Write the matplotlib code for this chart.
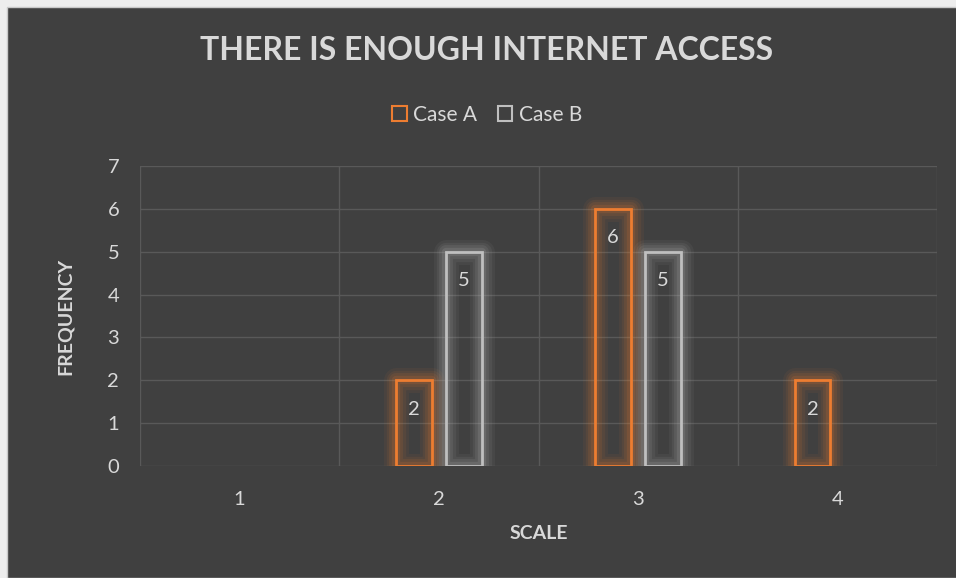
import matplotlib
matplotlib.use('Agg')
import matplotlib.pyplot as plt
import matplotlib.patches as patches
import numpy as np

# Survey answers on the 1-4 scale
scale = ['1', '2', '3', '4']
caseA = [0, 2, 6, 2]
caseB = [0, 5, 5, 0]
series = ['Case A', 'Case B']

colA = '#ED7D31'
colB = '#BFBFBF'
bg = '#404040'
txt = '#D9D9D9'
grid = '#595959'

plt.rcParams['font.family'] = ['Lato', 'DejaVu Sans']

fig = plt.figure(figsize=(9.56, 5.78), dpi=100)
fig.patch.set_facecolor('#EDEDED')
# dark chart area with thin light border on the top/left
frame = patches.Rectangle((7/956, 0), 1, 1 - 7/578, transform=fig.transFigure,
                          facecolor=bg, edgecolor='#C8C8C8', linewidth=1, zorder=-10)
fig.add_artist(frame)

ax = fig.add_axes([140/956, 112/578, 797/956, 300/578])
ax.set_facecolor('none')
ax.set_zorder(1)

x = np.arange(len(scale))
w = 0.18
off = 0.125


def glow_bars(xpos, vals, color):
    for xi, v in zip(xpos, vals):
        if v == 0:
            continue
        # soft halo around the outline
        for lw, a in [(18, 0.06), (14, 0.08), (10, 0.10), (6, 0.14)]:
            ax.add_patch(patches.Rectangle((xi - w/2, 0), w, v, fill=False, edgecolor=color,
                                           linewidth=lw, alpha=a, zorder=2, joinstyle='round'))
        ax.add_patch(patches.Rectangle((xi - w/2, 0), w, v, fill=False, edgecolor=color,
                                       linewidth=2, zorder=3))
        ax.annotate(str(v), xy=(xi, v), xytext=(0, -29), textcoords='offset pixels',
                    ha='center', va='center', fontsize=14.5, color=txt, zorder=4)


glow_bars(x - off, caseA, colA)
glow_bars(x + off, caseB, colB)

ax.set_xlim(-0.5, 3.5)
ax.set_ylim(0, 7)
ax.set_yticks(range(8))
ax.set_xticks(x)
ax.set_xticklabels(scale)
ax.set_xticks(np.arange(-0.5, 4, 1), minor=True)
ax.grid(True, which='minor', axis='x', color=grid, linewidth=1, zorder=1)
ax.grid(True, which='major', axis='y', color=grid, linewidth=1, zorder=1)
ax.set_axisbelow(True)
ax.tick_params(which='both', length=0)
ax.tick_params(axis='y', colors=txt, labelsize=14.5, pad=15)
ax.tick_params(axis='x', colors=txt, labelsize=14.5, pad=18)
for s in ax.spines.values():
    s.set_visible(False)

ax.set_xlabel('SCALE', color=txt, fontsize=14, fontweight='bold', labelpad=12)
ax.set_ylabel('FREQUENCY', color=txt, fontsize=14, fontweight='bold', labelpad=24)

fig.text(487/956, 1 - 50/578, 'THERE IS ENOUGH INTERNET ACCESS', ha='center', va='center',
         fontsize=23, fontweight='bold', color=txt)

handles = [patches.Rectangle((0, 0), 1, 1, facecolor='none', edgecolor=colA, linewidth=1.5),
           patches.Rectangle((0, 0), 1, 1, facecolor='none', edgecolor=colB, linewidth=1.5)]
fig.legend(handles, series, loc='center', bbox_to_anchor=(487/956, 1 - 115/578), ncol=2,
           frameon=False, fontsize=15, labelcolor=txt, handlelength=0.7, handleheight=0.7,
           handletextpad=0.3, columnspacing=1.0)

fig.savefig('out.png', dpi=100, facecolor=fig.get_facecolor())
